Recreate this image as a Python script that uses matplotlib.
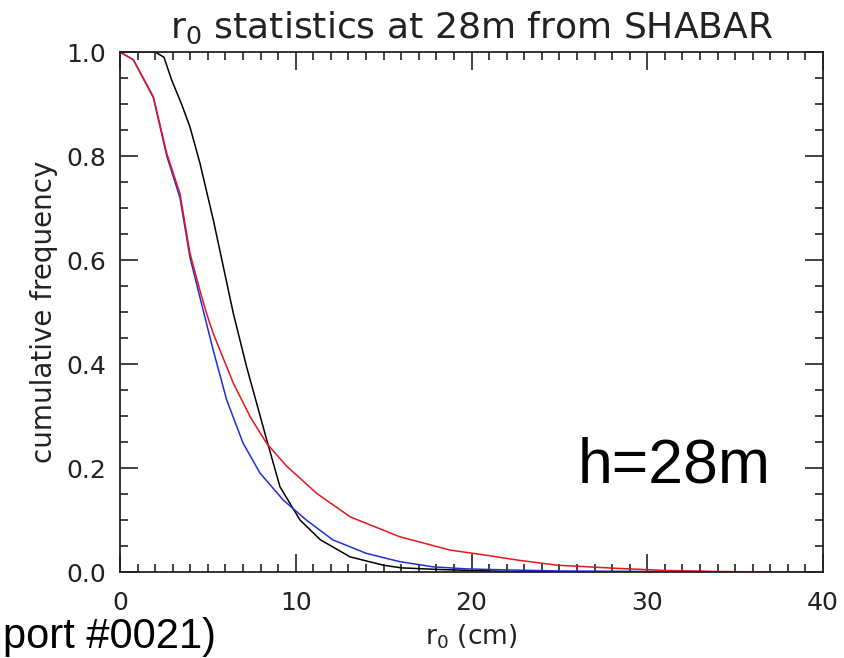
import numpy as np
import matplotlib.pyplot as plt
from matplotlib.ticker import MultipleLocator

# cumulative frequency curves (r0 in cm)
black_x = [0, 2.0, 2.5, 2.94, 3.5, 3.98, 4.55, 5.31, 5.88, 6.45, 7.2, 8.35, 9.1,
           10.24, 11.4, 13.1, 15.0, 16.0, 18.0, 20.0, 22.0, 25.0]
black_y = [1.0, 1.0, 0.99, 0.946, 0.9, 0.856, 0.786, 0.677, 0.587, 0.497, 0.395,
           0.254, 0.164, 0.1, 0.062, 0.029, 0.013, 0.008, 0.005, 0.003, 0.001, 0.0]

blue_x = [0, 0.76, 1.9, 2.66, 3.41, 3.98, 4.55, 5.3, 6.07, 7.0, 7.97, 9.3, 10.6,
          12.1, 14.0, 15.9, 17.8, 19.7, 22.0, 25.0, 30.0, 37.0]
blue_y = [1.0, 0.985, 0.912, 0.8, 0.72, 0.605, 0.528, 0.427, 0.331, 0.248, 0.19,
          0.138, 0.1, 0.062, 0.036, 0.02, 0.01, 0.006, 0.004, 0.002, 0.001, 0.0]

red_x = [0, 0.76, 1.9, 2.66, 3.41, 3.98, 4.6, 4.93, 5.3, 6.45, 7.4, 8.35, 9.5,
         11.2, 13.1, 15.9, 18.8, 20.7, 22.6, 24.9, 28.3, 31.0, 34.0, 37.0, 40.0]
red_y = [1.0, 0.985, 0.914, 0.805, 0.728, 0.613, 0.535, 0.497, 0.459, 0.363, 0.299,
         0.247, 0.203, 0.151, 0.106, 0.068, 0.042, 0.033, 0.023, 0.013, 0.007,
         0.003, 0.001, 0.0, 0.0]

x_ticks = [0, 10, 20, 30, 40]
y_ticks = [0.0, 0.2, 0.4, 0.6, 0.8, 1.0]

fig = plt.figure(figsize=(8.44, 6.58), dpi=100)
ax = fig.add_axes([120 / 844, 1 - 572 / 658, 703 / 844, 520 / 658])

ax.plot(black_x, black_y, color='black', lw=1.1)
ax.plot(blue_x, blue_y, color='#1f2fd8', lw=1.1)
ax.plot(red_x, red_y, color='#e8161c', lw=1.1)

ax.set_xlim(0, 40)
ax.set_ylim(0, 1.0)
ax.set_xticks(x_ticks)
ax.set_yticks(y_ticks)
ax.set_xticklabels([str(t) for t in x_ticks])
ax.set_yticklabels(['%.1f' % t for t in y_ticks])
ax.xaxis.set_minor_locator(MultipleLocator(1))
ax.yaxis.set_minor_locator(MultipleLocator(0.05))

ax.tick_params(which='both', direction='in', top=True, right=True,
               colors='#222222', labelsize=18, width=1.2)
ax.tick_params(which='major', length=13, pad=10)
ax.tick_params(axis='x', which='major', pad=14)
ax.tick_params(which='minor', length=6)
for s in ax.spines.values():
    s.set_color('#222222')
    s.set_linewidth(1.3)

ax.set_title('r$_0$ statistics at 28m from SHABAR', fontsize=26, color='#222222', pad=10)
ax.set_xlabel('r$_0$ (cm)', fontsize=19, color='#222222', labelpad=5)
ax.set_ylabel('cumulative frequency', fontsize=20, color='#222222', labelpad=6)

fig.text(578 / 844, 1 - 466 / 658, 'h=28m', fontsize=45, family='Liberation Sans',
         ha='left', va='center', color='black')
fig.text(3 / 844, 1 / 658, 'port #0021)', fontsize=30, family='Liberation Sans',
         ha='left', va='bottom', color='black')

fig.savefig('out.png', dpi=100)
